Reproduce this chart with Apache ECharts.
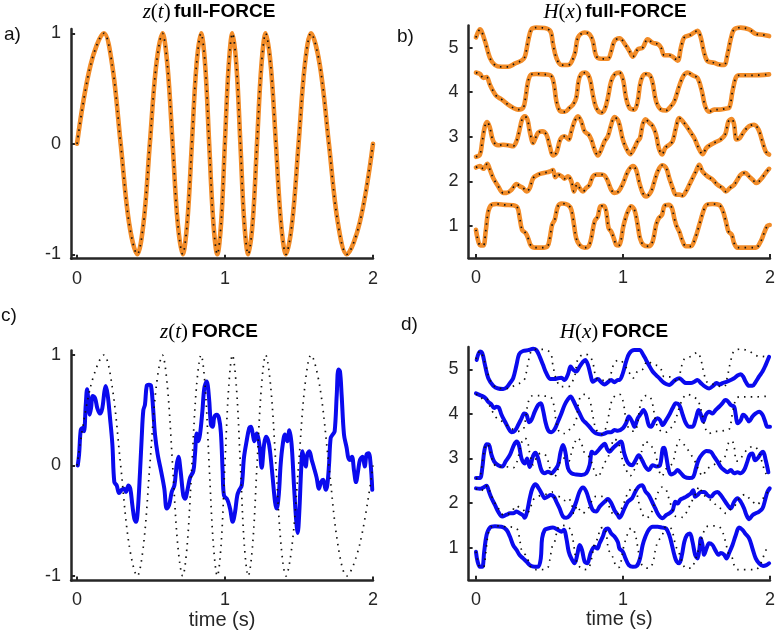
<!DOCTYPE html>
<html><head><meta charset="utf-8">
<script src="https://cdn.jsdelivr.net/npm/echarts@6/dist/echarts.min.js"></script>
<style>html,body{margin:0;padding:0;background:#fff}#c{width:778px;height:641px}</style>
</head><body><div id="c"></div>
<script>
// ---- tick labels ----
const xTicks = [0, 1, 2];
const zTicks = [-1, 0, 1];
const hTicks = [1, 2, 3, 4, 5];

// ---- z(t) target (time s, value) ----
const zTarget = [[0,0],[0.091,0.71],[0.182,1],[0.238,0.71],[0.295,0],[0.351,-0.71],[0.407,-1],[0.45,-0.71],[0.492,0],[0.535,0.71],[0.577,1],[0.611,0.71],[0.646,0],[0.68,-0.71],[0.714,-1],[0.745,-0.71],[0.776,0],[0.807,0.71],[0.838,1],[0.866,0.71],[0.893,0],[0.921,-0.71],[0.948,-1],[0.974,-0.71],[0.999,0],[1.025,0.71],[1.05,1],[1.077,0.71],[1.104,0],[1.13,-0.71],[1.157,-1],[1.187,-0.71],[1.216,0],[1.246,0.71],[1.275,1],[1.309,0.71],[1.344,0],[1.378,-0.71],[1.412,-1],[1.454,-0.71],[1.497,0],[1.539,0.71],[1.581,1],[1.641,0.71],[1.702,0],[1.762,-0.71],[1.822,-1],[1.911,-0.71],[2.0,0]];

// ---- z(t) FORCE output ----
const zForce = [[0.005,0.0],[0.014,0.1],[0.025,0.32],[0.036,0.34],[0.047,0.31],[0.059,0.55],[0.068,0.69],[0.077,0.58],[0.086,0.46],[0.095,0.52],[0.106,0.63],[0.122,0.61],[0.137,0.52],[0.155,0.47],[0.171,0.52],[0.185,0.67],[0.194,0.72],[0.207,0.64],[0.223,0.43],[0.239,0.19],[0.252,-0.15],[0.268,-0.18],[0.284,-0.25],[0.302,-0.22],[0.318,-0.21],[0.331,-0.24],[0.347,-0.18],[0.36,-0.21],[0.374,-0.36],[0.387,-0.48],[0.399,-0.51],[0.41,-0.42],[0.426,-0.05],[0.437,0.25],[0.448,0.5],[0.459,0.55],[0.471,0.72],[0.486,0.73],[0.5,0.72],[0.514,0.52],[0.527,0.28],[0.545,0.1],[0.568,-0.05],[0.59,-0.21],[0.606,-0.39],[0.622,-0.36],[0.64,-0.24],[0.658,-0.18],[0.673,0.0],[0.685,0.08],[0.7,-0.05],[0.718,-0.27],[0.73,-0.3],[0.748,-0.21],[0.764,-0.11],[0.786,-0.05],[0.797,0.1],[0.809,0.29],[0.82,0.22],[0.831,0.28],[0.847,0.49],[0.86,0.7],[0.876,0.76],[0.892,0.61],[0.905,0.37],[0.917,0.35],[0.928,0.44],[0.944,0.46],[0.959,0.43],[0.972,0.3],[0.984,-0.05],[0.993,-0.27],[1.016,-0.31],[1.034,-0.39],[1.052,-0.51],[1.068,-0.42],[1.083,-0.27],[1.097,-0.22],[1.113,-0.18],[1.128,0.07],[1.146,0.22],[1.164,0.34],[1.175,0.35],[1.187,0.29],[1.198,0.22],[1.214,0.29],[1.232,0.19],[1.248,-0.02],[1.264,0.19],[1.277,0.26],[1.293,0.22],[1.304,0.13],[1.322,-0.11],[1.338,-0.33],[1.349,-0.39],[1.363,-0.27],[1.376,0.01],[1.39,0.19],[1.405,0.28],[1.421,0.22],[1.435,0.32],[1.45,0.19],[1.466,-0.18],[1.48,-0.48],[1.491,-0.61],[1.502,-0.42],[1.514,-0.05],[1.523,0.13],[1.534,0.05],[1.545,-0.01],[1.556,0.1],[1.57,0.13],[1.586,0.05],[1.601,-0.02],[1.619,-0.11],[1.635,-0.21],[1.649,-0.15],[1.664,-0.13],[1.68,-0.22],[1.691,-0.18],[1.703,0.01],[1.714,0.25],[1.728,0.28],[1.741,0.31],[1.755,0.64],[1.766,0.87],[1.777,0.85],[1.788,0.64],[1.804,0.28],[1.822,0.16],[1.833,0.07],[1.845,0.05],[1.858,0.08],[1.872,-0.05],[1.885,-0.15],[1.899,-0.05],[1.912,0.05],[1.93,0.08],[1.944,-0.01],[1.957,0.1],[1.971,0.11],[1.984,0.01],[1.995,-0.22]];

// ---- H(x) targets (offset traces 1..5) ----
const hTarget1 = [[0,0.91],[0.011,0.72],[0.027,0.57],[0.05,0.56],[0.066,0.87],[0.084,1.32],[0.106,1.47],[0.14,1.49],[0.197,1.47],[0.253,1.46],[0.282,1.41],[0.298,1.17],[0.314,0.91],[0.337,0.84],[0.355,0.72],[0.373,0.56],[0.4,0.51],[0.445,0.51],[0.486,0.54],[0.502,0.72],[0.518,1.02],[0.536,1.14],[0.558,1.44],[0.585,1.5],[0.626,1.47],[0.649,1.36],[0.667,1.02],[0.682,0.72],[0.705,0.57],[0.739,0.51],[0.766,0.54],[0.784,0.72],[0.807,1.1],[0.829,1.21],[0.847,1.44],[0.87,1.45],[0.886,1.32],[0.902,0.95],[0.92,0.87],[0.938,0.72],[0.955,0.57],[0.972,0.56],[0.988,0.7],[1.0,0.95],[1.017,1.17],[1.033,1.32],[1.056,1.44],[1.078,1.36],[1.1,1.02],[1.116,0.72],[1.139,0.57],[1.175,0.54],[1.202,0.65],[1.225,1.02],[1.243,1.17],[1.266,1.25],[1.281,1.44],[1.311,1.47],[1.333,1.4],[1.349,1.17],[1.365,0.99],[1.383,0.87],[1.406,0.65],[1.428,0.54],[1.462,0.54],[1.491,0.72],[1.519,1.02],[1.546,1.32],[1.568,1.47],[1.609,1.49],[1.654,1.47],[1.677,1.36],[1.7,1.1],[1.718,0.87],[1.74,0.8],[1.756,0.61],[1.779,0.51],[1.835,0.51],[1.903,0.51],[1.937,0.65],[1.96,0.84],[1.982,1.0],[1.998,1.02]];
const hTarget2 = [[0,2.31],[0.027,2.34],[0.05,2.28],[0.077,2.39],[0.095,2.26],[0.118,2.07],[0.151,1.89],[0.185,1.74],[0.208,1.74],[0.242,1.81],[0.276,1.94],[0.298,1.89],[0.321,1.85],[0.344,1.77],[0.366,1.85],[0.389,2.07],[0.423,2.15],[0.468,2.19],[0.502,2.22],[0.524,2.25],[0.54,2.09],[0.558,2.15],[0.585,2.11],[0.603,2.06],[0.626,2.11],[0.649,2.0],[0.667,1.77],[0.689,1.94],[0.705,1.85],[0.728,1.77],[0.75,1.85],[0.773,1.92],[0.795,2.11],[0.818,2.15],[0.852,2.15],[0.875,2.13],[0.897,2.0],[0.92,1.81],[0.942,1.74],[0.969,1.77],[1.0,1.95],[1.033,2.22],[1.067,2.34],[1.089,2.26],[1.112,1.96],[1.134,1.74],[1.157,1.66],[1.191,1.77],[1.214,2.0],[1.236,2.22],[1.266,2.36],[1.293,2.3],[1.315,2.07],[1.338,1.85],[1.36,1.7],[1.383,1.7],[1.406,1.68],[1.428,1.77],[1.451,1.92],[1.473,2.07],[1.496,2.22],[1.519,2.37],[1.541,2.22],[1.575,2.11],[1.609,2.04],[1.643,1.92],[1.677,1.85],[1.7,1.77],[1.727,1.85],[1.756,1.92],[1.779,2.04],[1.801,2.15],[1.831,2.19],[1.858,2.11],[1.881,2.04],[1.908,1.96],[1.937,2.04],[1.971,2.19],[1.994,2.28]];
const hTarget3 = [[0,2.55],[0.027,2.6],[0.043,2.9],[0.061,3.24],[0.077,3.33],[0.095,3.2],[0.118,2.9],[0.151,2.81],[0.185,2.82],[0.219,2.81],[0.253,2.79],[0.276,2.9],[0.294,3.12],[0.314,3.39],[0.332,3.46],[0.35,3.39],[0.366,3.12],[0.389,2.86],[0.405,2.97],[0.423,3.09],[0.45,3.12],[0.479,3.05],[0.502,2.79],[0.524,2.58],[0.547,2.64],[0.569,2.9],[0.585,2.99],[0.603,3.01],[0.631,2.94],[0.649,3.12],[0.671,3.35],[0.694,3.46],[0.716,3.35],[0.739,3.12],[0.766,3.05],[0.784,2.94],[0.807,2.71],[0.829,2.58],[0.852,2.71],[0.875,2.9],[0.897,3.01],[0.92,3.27],[0.942,3.44],[0.969,3.35],[0.999,2.94],[1.021,2.75],[1.049,2.61],[1.078,2.75],[1.1,2.9],[1.116,2.97],[1.134,3.27],[1.153,3.39],[1.18,3.31],[1.202,3.24],[1.225,3.05],[1.243,2.75],[1.266,2.6],[1.288,2.75],[1.315,2.82],[1.338,2.9],[1.36,3.2],[1.383,3.42],[1.406,3.35],[1.44,3.2],[1.462,3.09],[1.485,2.97],[1.514,2.75],[1.541,2.61],[1.568,2.75],[1.597,2.82],[1.631,2.88],[1.665,2.94],[1.695,3.05],[1.718,3.35],[1.74,3.4],[1.756,3.27],[1.772,2.94],[1.794,2.97],[1.824,3.12],[1.858,3.24],[1.892,3.27],[1.922,3.16],[1.944,2.94],[1.971,2.67],[1.994,2.6]];
const hTarget4 = [[0,4.44],[0.027,4.41],[0.05,4.32],[0.072,4.34],[0.095,4.17],[0.118,4.02],[0.14,3.91],[0.174,3.84],[0.197,3.78],[0.219,3.72],[0.253,3.65],[0.287,3.61],[0.321,3.65],[0.337,3.87],[0.355,4.25],[0.377,4.4],[0.411,4.41],[0.468,4.4],[0.513,4.36],[0.531,4.17],[0.547,3.8],[0.569,3.59],[0.603,3.56],[0.637,3.65],[0.66,3.72],[0.682,3.87],[0.698,4.25],[0.716,4.41],[0.743,4.44],[0.773,4.32],[0.795,3.95],[0.818,3.65],[0.852,3.54],[0.875,3.61],[0.897,3.87],[0.92,4.25],[0.947,4.41],[0.976,4.44],[1.0,4.29],[1.021,3.87],[1.044,3.65],[1.078,3.61],[1.1,3.8],[1.116,4.17],[1.134,4.36],[1.157,4.41],[1.184,4.38],[1.202,4.21],[1.225,3.8],[1.259,3.61],[1.293,3.59],[1.327,3.69],[1.35,3.8],[1.383,4.14],[1.41,4.36],[1.44,4.44],[1.473,4.38],[1.507,4.32],[1.537,4.02],[1.559,3.69],[1.586,3.56],[1.62,3.61],[1.654,3.61],[1.695,3.63],[1.722,3.65],[1.745,4.02],[1.767,4.32],[1.79,4.38],[1.88,4.38],[1.994,4.4]];
const hTarget5 = [[0,5.23],[0.027,5.41],[0.061,5.15],[0.095,4.77],[0.129,4.61],[0.174,4.57],[0.219,4.57],[0.264,4.64],[0.31,4.71],[0.332,4.79],[0.355,5.15],[0.377,5.41],[0.411,5.45],[0.468,5.44],[0.508,5.36],[0.524,5.08],[0.547,4.77],[0.581,4.61],[0.626,4.61],[0.671,4.85],[0.694,5.23],[0.739,5.34],[0.773,5.3],[0.795,5.15],[0.818,4.81],[0.852,4.75],[0.897,4.75],[0.92,4.92],[0.942,5.15],[0.976,5.21],[1.021,5.04],[1.044,4.92],[1.067,4.8],[1.1,4.96],[1.134,5.0],[1.168,5.19],[1.202,5.11],[1.236,5.08],[1.259,5.0],[1.281,4.83],[1.315,4.83],[1.338,4.8],[1.372,4.71],[1.394,5.0],[1.417,5.23],[1.462,5.29],[1.507,5.38],[1.529,5.23],[1.552,4.89],[1.575,4.7],[1.62,4.66],[1.654,4.62],[1.688,4.61],[1.711,4.85],[1.733,5.19],[1.756,5.41],[1.801,5.45],[1.858,5.41],[1.903,5.31],[1.949,5.29],[1.994,5.26]];

// ---- H(x) FORCE outputs ----
const hForce1 = [[0,0.91],[0.011,0.69],[0.027,0.57],[0.043,0.57],[0.056,0.91],[0.072,1.28],[0.095,1.45],[0.129,1.48],[0.174,1.47],[0.208,1.4],[0.231,1.25],[0.253,1.06],[0.276,0.95],[0.298,0.83],[0.321,0.76],[0.344,0.69],[0.366,0.61],[0.4,0.57],[0.423,0.57],[0.441,0.76],[0.45,1.21],[0.468,1.4],[0.49,1.43],[0.524,1.45],[0.558,1.4],[0.581,1.36],[0.599,1.4],[0.615,1.21],[0.631,0.91],[0.649,0.76],[0.671,0.65],[0.689,0.84],[0.705,1.06],[0.721,0.95],[0.739,0.69],[0.757,0.65],[0.78,0.88],[0.807,1.02],[0.825,0.98],[0.841,1.1],[0.863,1.25],[0.879,1.4],[0.897,1.43],[0.92,1.32],[0.942,1.25],[0.965,1.13],[0.976,0.98],[0.999,0.91],[1.017,0.76],[1.04,0.61],[1.067,0.57],[1.094,0.59],[1.116,0.76],[1.134,1.06],[1.153,1.25],[1.175,1.4],[1.202,1.47],[1.236,1.47],[1.266,1.45],[1.293,1.43],[1.315,1.28],[1.333,1.06],[1.349,0.84],[1.365,0.69],[1.383,0.65],[1.401,0.84],[1.417,1.13],[1.435,1.28],[1.455,1.32],[1.473,1.13],[1.491,0.84],[1.507,0.76],[1.519,0.95],[1.53,1.21],[1.541,1.06],[1.552,0.84],[1.568,0.98],[1.586,1.1],[1.609,1.06],[1.627,0.95],[1.65,0.84],[1.665,0.88],[1.688,0.84],[1.704,0.76],[1.722,0.88],[1.745,1.06],[1.767,1.28],[1.79,1.45],[1.813,1.4],[1.831,1.32],[1.858,1.21],[1.881,0.98],[1.903,0.76],[1.926,0.65],[1.953,0.59],[1.976,0.61],[1.994,0.65]];
const hForce2 = [[0,2.33],[0.027,2.32],[0.05,2.35],[0.072,2.39],[0.088,2.26],[0.106,2.11],[0.129,1.96],[0.151,1.81],[0.179,1.7],[0.208,1.74],[0.231,1.77],[0.253,1.77],[0.276,1.81],[0.298,1.77],[0.321,1.72],[0.332,1.67],[0.35,1.84],[0.366,2.11],[0.384,2.33],[0.405,2.42],[0.427,2.33],[0.45,2.2],[0.468,2.11],[0.486,2.14],[0.508,2.18],[0.531,2.14],[0.547,2.03],[0.569,1.88],[0.592,1.7],[0.615,1.67],[0.637,1.72],[0.66,1.84],[0.682,2.03],[0.705,2.26],[0.728,2.35],[0.75,2.26],[0.773,2.03],[0.795,1.84],[0.818,1.81],[0.841,1.92],[0.875,2.03],[0.897,2.09],[0.92,2.0],[0.942,1.84],[0.965,1.73],[0.976,1.67],[1.01,1.88],[1.033,2.03],[1.062,2.11],[1.085,2.26],[1.107,2.37],[1.13,2.4],[1.153,2.26],[1.175,2.18],[1.198,2.03],[1.22,1.88],[1.243,1.73],[1.27,1.66],[1.293,1.73],[1.315,1.77],[1.338,1.84],[1.356,2.03],[1.372,1.99],[1.388,2.07],[1.41,2.11],[1.428,2.14],[1.446,2.18],[1.462,2.22],[1.478,2.29],[1.491,2.14],[1.507,2.18],[1.53,2.25],[1.552,2.25],[1.575,2.18],[1.598,2.14],[1.62,2.22],[1.643,2.25],[1.665,2.18],[1.688,2.07],[1.711,1.96],[1.733,1.88],[1.756,2.03],[1.779,2.11],[1.801,2.03],[1.824,1.88],[1.84,1.73],[1.858,1.64],[1.881,1.73],[1.903,1.77],[1.926,1.81],[1.949,1.88],[1.967,2.07],[1.982,2.25],[1.998,2.33]];
const hForce3 = [[0,2.56],[0.027,2.56],[0.043,2.78],[0.056,3.15],[0.072,3.32],[0.088,3.31],[0.106,3.08],[0.124,2.93],[0.151,2.85],[0.179,2.82],[0.201,2.93],[0.231,3.08],[0.258,3.3],[0.276,3.38],[0.292,3.3],[0.31,3.0],[0.332,2.89],[0.348,3.0],[0.366,2.81],[0.389,3.06],[0.405,3.13],[0.423,3.0],[0.445,2.74],[0.468,2.67],[0.49,2.7],[0.513,2.67],[0.536,2.74],[0.558,2.85],[0.576,3.15],[0.592,3.3],[0.608,3.15],[0.626,2.78],[0.649,2.67],[0.682,2.64],[0.716,2.63],[0.75,2.67],[0.773,2.85],[0.789,3.15],[0.807,3.11],[0.829,3.17],[0.852,3.26],[0.875,3.33],[0.893,3.21],[0.908,3.15],[0.931,3.23],[0.954,3.3],[0.985,3.38],[1.01,3.1],[1.033,2.91],[1.062,2.85],[1.085,2.96],[1.107,3.07],[1.13,2.96],[1.153,2.81],[1.175,2.74],[1.202,2.85],[1.229,2.82],[1.252,2.85],[1.27,3.22],[1.281,3.24],[1.293,3.07],[1.311,2.74],[1.327,2.64],[1.349,2.67],[1.372,2.74],[1.394,2.67],[1.417,2.59],[1.451,2.56],[1.478,2.59],[1.496,2.78],[1.514,2.97],[1.537,3.09],[1.568,3.17],[1.598,3.15],[1.62,3.04],[1.643,2.93],[1.665,2.81],[1.688,2.74],[1.711,2.69],[1.733,2.74],[1.756,2.67],[1.779,2.69],[1.801,2.67],[1.824,2.74],[1.846,2.93],[1.862,3.08],[1.88,3.11],[1.899,2.96],[1.922,3.03],[1.937,3.11],[1.953,3.15],[1.971,2.96],[1.989,2.69]];
const hForce4 = [[0,4.46],[0.027,4.42],[0.05,4.39],[0.066,4.35],[0.084,4.27],[0.106,4.21],[0.124,4.13],[0.14,4.16],[0.156,4.14],[0.174,3.98],[0.197,3.83],[0.219,3.69],[0.242,3.59],[0.264,3.62],[0.287,3.75],[0.31,3.9],[0.328,4.01],[0.344,3.98],[0.362,3.81],[0.377,3.86],[0.4,4.05],[0.423,4.2],[0.441,4.24],[0.456,4.09],[0.472,3.83],[0.49,3.64],[0.513,3.59],[0.536,3.66],[0.558,3.83],[0.581,4.01],[0.603,4.2],[0.626,4.33],[0.644,4.39],[0.66,4.31],[0.682,4.16],[0.705,4.01],[0.728,3.86],[0.75,3.79],[0.773,3.71],[0.795,3.62],[0.818,3.56],[0.852,3.54],[0.875,3.56],[0.897,3.59],[0.92,3.59],[0.942,3.64],[0.965,3.62],[0.999,3.68],[1.021,3.79],[1.04,3.94],[1.062,3.83],[1.078,3.71],[1.1,3.9],[1.123,4.01],[1.139,4.09],[1.157,3.98],[1.175,3.75],[1.191,3.71],[1.214,3.84],[1.236,3.9],[1.252,3.86],[1.27,3.75],[1.293,3.86],[1.315,3.98],[1.338,4.13],[1.36,4.24],[1.383,4.2],[1.406,3.98],[1.428,3.79],[1.451,3.71],[1.473,3.71],[1.496,3.9],[1.514,4.09],[1.53,3.98],[1.546,3.83],[1.564,3.98],[1.586,4.05],[1.609,4.01],[1.631,4.09],[1.654,4.16],[1.677,4.24],[1.695,4.31],[1.711,4.29],[1.733,4.2],[1.756,4.16],[1.767,3.98],[1.779,3.79],[1.801,3.86],[1.817,3.98],[1.835,3.94],[1.858,3.83],[1.881,3.94],[1.903,4.01],[1.926,4.05],[1.949,3.98],[1.967,3.83],[1.982,3.71],[2.0,3.71]];
const hForce5 = [[0.005,5.21],[0.027,5.4],[0.043,5.36],[0.061,5.1],[0.084,4.8],[0.118,4.63],[0.151,4.57],[0.185,4.56],[0.208,4.59],[0.231,4.69],[0.253,4.8],[0.276,5.1],[0.294,5.34],[0.321,5.41],[0.355,5.43],[0.389,5.46],[0.411,5.43],[0.434,5.28],[0.456,5.1],[0.479,4.91],[0.508,4.78],[0.536,4.78],[0.558,4.8],[0.581,4.81],[0.603,4.76],[0.626,4.89],[0.644,5.06],[0.662,4.99],[0.682,4.95],[0.705,5.06],[0.728,5.17],[0.743,5.21],[0.762,5.1],[0.78,4.87],[0.795,4.72],[0.814,4.76],[0.829,4.78],[0.852,4.71],[0.875,4.66],[0.897,4.71],[0.92,4.76],[0.942,4.71],[0.965,4.76],[0.976,4.76],[0.999,4.91],[1.021,5.17],[1.044,5.36],[1.078,5.43],[1.112,5.43],[1.139,5.32],[1.157,5.21],[1.175,5.1],[1.202,4.95],[1.225,4.87],[1.247,4.8],[1.27,4.72],[1.293,4.67],[1.315,4.65],[1.333,4.69],[1.356,4.76],[1.383,4.8],[1.406,4.74],[1.428,4.69],[1.462,4.69],[1.485,4.72],[1.507,4.76],[1.53,4.69],[1.559,4.61],[1.586,4.57],[1.613,4.63],[1.636,4.69],[1.659,4.66],[1.677,4.69],[1.704,4.72],[1.733,4.76],[1.756,4.8],[1.779,4.86],[1.801,4.89],[1.817,4.84],[1.835,4.72],[1.858,4.63],[1.881,4.63],[1.903,4.72],[1.926,4.84],[1.949,4.95],[1.971,5.1],[1.994,5.28]];

const hTargets = [hTarget1, hTarget2, hTarget3, hTarget4, hTarget5];
const hForces = [hForce1, hForce2, hForce3, hForce4, hForce5];

// ---- styling ----
const AX = '#262626';
const ORANGE = '#F28C28';
const BLUE = '#0A0AEE';
const FONT = 'Liberation Sans, Arial, sans-serif';

const grids = [
  {left: 71.1, top: 28.9, width: 301.9, height: 229.8},   // a
  {left: 468.6, top: 25.4, width: 302.4, height: 232.5},  // b
  {left: 71.1, top: 350.6, width: 301.9, height: 229.8},  // c
  {left: 468.6, top: 347.0, width: 302.4, height: 232.8}  // d
];

function xAxisOf(gi, xmin, withName) {
  const ax = {
    type: 'value', gridIndex: gi, min: xmin, max: 2,
    axisLine: {show: true, onZero: false, lineStyle: {color: AX, width: 2.5}},
    axisTick: {show: true, inside: true, length: 4, customValues: xTicks, lineStyle: {color: AX, width: 2}},
    axisLabel: {customValues: xTicks, fontSize: 18, color: AX, margin: 11, fontFamily: FONT},
    splitLine: {show: false}
  };
  if (withName) {
    ax.name = 'time (s)';
    ax.nameLocation = 'middle';
    ax.nameGap = 29;
    ax.nameTextStyle = {fontSize: 20, color: AX, fontFamily: FONT};
  }
  return ax;
}
function yAxisOf(gi, ymin, ymax, ticks) {
  return {
    type: 'value', gridIndex: gi, min: ymin, max: ymax,
    axisLine: {show: true, onZero: false, lineStyle: {color: AX, width: 2.5}},
    axisTick: {show: true, inside: true, length: 4, customValues: ticks, lineStyle: {color: AX, width: 2}},
    axisLabel: {customValues: ticks, fontSize: 18, color: AX, margin: 10, fontFamily: FONT},
    splitLine: {show: false}
  };
}

const series = [];
function line(idx, data, color, width, dotted) {
  series.push({
    type: 'line', xAxisIndex: idx, yAxisIndex: idx, data: data,
    showSymbol: false, symbol: 'none', smooth: 0.35, silent: true,
    lineStyle: dotted ? {color: '#111', width: 1.7, type: [1.5, 5.2]} : {color: color, width: width, cap: 'round', join: 'round'},
    z: dotted ? 3 : 2
  });
}
// a
line(0, zTarget, ORANGE, 4.6, false);
line(0, zTarget, null, 0, true);
// b
hTargets.forEach(d => { line(1, d, ORANGE, 4.6, false); line(1, d, null, 0, true); });
// c
line(2, zForce, BLUE, 4, false);
line(2, zTarget, null, 0, true);
// d
hForces.forEach(d => line(3, d, BLUE, 4, false));
hTargets.forEach(d => line(3, d, null, 0, true));

const rich = {
  it: {fontFamily: 'Liberation Serif, serif', fontStyle: 'italic', fontSize: 21, color: '#111'},
  rm: {fontFamily: 'Liberation Serif, serif', fontSize: 21, color: '#111'},
  b: {fontFamily: FONT, fontWeight: 'bold', fontSize: 19, color: '#111'}
};
function titleText(x, y, txt) {
  return {type: 'text', x: x, y: y, silent: true, style: {text: txt, rich: rich, align: 'center', verticalAlign: 'middle'}};
}
function panelLabel(x, y, txt) {
  return {type: 'text', x: x, y: y, silent: true, style: {text: txt, fontFamily: FONT, fontSize: 19, fill: '#111', align: 'left', verticalAlign: 'middle'}};
}

const chart = echarts.init(document.getElementById('c'), null, {renderer: 'canvas'});
chart.setOption({
  animation: false,
  backgroundColor: '#fff',
  grid: grids,
  xAxis: [xAxisOf(0, -0.04, false), xAxisOf(1, -0.05, false), xAxisOf(2, -0.04, true), xAxisOf(3, -0.05, true)],
  yAxis: [yAxisOf(0, -1.04, 1.04, zTicks), yAxisOf(1, 0.28, 5.5, hTicks), yAxisOf(2, -1.04, 1.04, zTicks), yAxisOf(3, 0.28, 5.5, hTicks)],
  series: series,
  graphic: [
    titleText(209, 12, '{it|z}{rm|(}{it|t}{rm|)} {b|full-FORCE}'),
    titleText(615, 12, '{it|H}{rm|(}{it|x}{rm|)} {b|full-FORCE}'),
    titleText(209, 332, '{it|z}{rm|(}{it|t}{rm|)} {b|FORCE}'),
    titleText(614, 332, '{it|H}{rm|(}{it|x}{rm|)} {b|FORCE}'),
    panelLabel(4, 35, 'a)'),
    panelLabel(397, 37, 'b)'),
    panelLabel(1, 316, 'c)'),
    panelLabel(401, 325, 'd)')
  ]
});
</script></body></html>
